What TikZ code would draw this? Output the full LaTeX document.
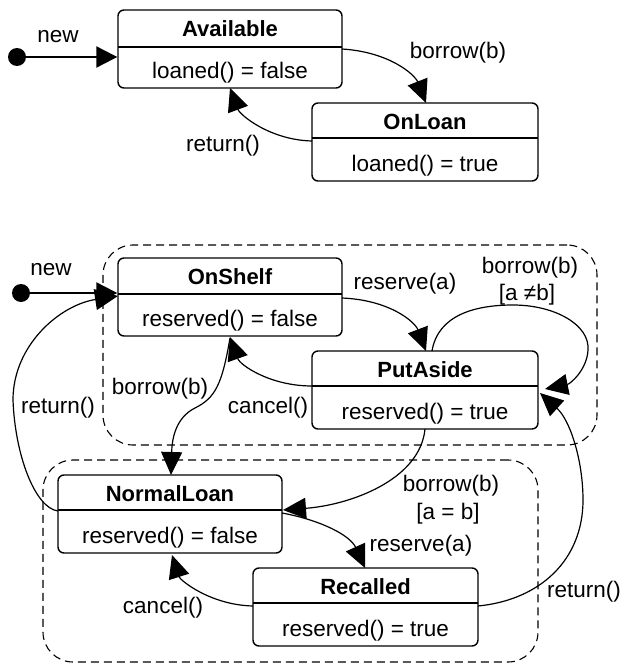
\documentclass[tikz,border=0pt]{standalone}
\usepackage{fontspec}
\setmainfont{Liberation Sans}
\usetikzlibrary{arrows.meta}
\tikzset{
  conn/.style={line width=1.2pt, -{Triangle[length=23pt,width=21pt]}},
  initarrow/.style={line width=2.2pt, -{Triangle[length=21pt,width=21pt]}},
  initdot/.style={circle, fill=black, minimum size=18pt, inner sep=0pt},
  statebox/.style={draw, line width=1.4pt, rounded corners=6pt, inner sep=0pt},
  divline/.style={line width=2.4pt},
  container/.style={draw, line width=1.1pt, dash pattern=on 8pt off 5pt, rounded corners=30pt, inner sep=0pt},
  lbl/.style={font=\fontsize{22.5}{26}\selectfont, inner sep=0pt, anchor=base},
  ttl/.style={font=\bfseries\fontsize{22}{26}\selectfont, inner sep=0pt, anchor=base},
}
\newcommand\umlstate[8]{%
  \pgfmathsetmacro\stX{(#2+#4)/2}\pgfmathsetmacro\stY{(#3+#5)/2}%
  \pgfmathsetmacro\stW{#4-#2}\pgfmathsetmacro\stH{#5-#3}%
  \pgfmathsetmacro\stT{#3+26}\pgfmathsetmacro\stB{#5-9.5}%
  \node[statebox, minimum width=\stW pt, minimum height=\stH pt] (#1) at (\stX,\stY) {};
  \draw[divline] (#2,#6) -- (#4,#6);
  \node[ttl] (#1-title) at (\stX,\stT) {#7};
  \node[lbl] (#1-body) at (\stX,\stB) {#8};
}
\begin{document}
\begin{tikzpicture}[x=1pt,y=-1pt]
\useasboundingbox (0,0) rectangle (626,664);
% containers
\node[container, minimum width=494pt, minimum height=200pt] (cont1) at (350,345) {};
\node[container, minimum width=495pt, minimum height=202pt] (cont2) at (290.5,561) {};
% states
\umlstate{avail}{118}{10}{342}{88}{47}{Available}{loaned() = false}
\umlstate{onloan}{312}{103}{538}{181}{138}{OnLoan}{loaned() = true}
\umlstate{onshelf}{118}{258}{342}{336}{294}{OnShelf}{reserved() = false}
\umlstate{putaside}{312}{351}{538}{429}{386}{PutAside}{reserved() = true}
\umlstate{normal}{58}{475}{282}{553}{510}{NormalLoan}{reserved() = false}
\umlstate{recalled}{253}{568}{478}{646}{603}{Recalled}{reserved() = true}
% initial states
\node[initdot] (init1) at (17,57) {};
\node[initdot] (init2) at (21,293) {};
% attach points
\coordinate (p1) at (342,49);   \coordinate (p2) at (426,103);
\coordinate (p3) at (312,141);  \coordinate (p4) at (230,88);
\coordinate (q1) at (342,298);  \coordinate (q2) at (426,351);
\coordinate (q3) at (432,351);  \coordinate (q4) at (545,389);
\coordinate (q5) at (312,386);  \coordinate (q6) at (230,337);
\coordinate (q7) at (230,338);  \coordinate (q8) at (171,475);
\coordinate (q9) at (58,511);   \coordinate (q10) at (118,296);
\coordinate (r1) at (425,429);  \coordinate (r2) at (283,510);
\coordinate (r3) at (282,513);  \coordinate (r4) at (365,568);
\coordinate (r5) at (253,606);  \coordinate (r6) at (172,555);
\coordinate (r7) at (478,606);  \coordinate (r8) at (540,393);
% connectors (top diagram)
\draw[initarrow] (init1) -- (init1 -| avail.west);
\draw[conn] (p1) .. controls (390,52) and (415,75) .. (p2);
\draw[conn] (p3) .. controls (270,140) and (240,115) .. (p4);
% connectors (bottom diagram)
\draw[initarrow] (init2) -- (init2 -| onshelf.west);
\draw[conn] (q1) .. controls (390,300) and (415,322) .. (q2);
\draw[conn] (q3) .. controls (438,315) and (475,305) .. (513,305)
  .. controls (555,305) and (590,325) .. (588,350)
  .. controls (587,370) and (570,384) .. (q4);
\draw[conn] (q5) .. controls (270,386) and (240,365) .. (q6);
\draw[conn] (q7) .. controls (222,385) and (215,398) .. (195,408)
  .. controls (175,418) and (172,440) .. (q8);
\draw[conn] (q9) .. controls (35,508) and (15,455) .. (13,400)
  .. controls (13,345) and (60,305) .. (q10);
\draw[conn] (r1) .. controls (420,480) and (350,505) .. (r2);
\draw[conn] (r3) .. controls (320,520) and (350,535) .. (r4);
\draw[conn] (r5) .. controls (210,605) and (180,580) .. (r6);
\draw[conn] (r7) .. controls (540,600) and (583,560) .. (583,500)
  .. controls (583,460) and (570,420) .. (r8);
% labels
\node[lbl] (l-new1) at (58,42) {new};
\node[lbl] (l-borrow1) at (458,58) {borrow(b)};
\node[lbl] (l-return1) at (223,151) {return()};
\node[lbl] (l-new2) at (51,275) {new};
\node[lbl] (l-reserve1) at (405,289) {reserve(a)};
\node[lbl] (l-loop1) at (530,273) {borrow(b)};
\node[lbl] (l-loop2) at (527,300) {[a ≠b]};
\node[lbl] (l-borrow2) at (160,394) {borrow(b)};
\node[lbl] (l-cancel1) at (268,413) {cancel()};
\node[lbl] (l-return2) at (58,413) {return()};
\node[lbl] (l-borrow3) at (451,491) {borrow(b)};
\node[lbl] (l-guard3) at (448,519) {[a = b]};
\node[lbl] (l-reserve2) at (421,551) {reserve(a)};
\node[lbl] (l-return3) at (584,597) {return()};
\node[lbl] (l-cancel2) at (163,613) {cancel()};
\end{tikzpicture}
\end{document}
